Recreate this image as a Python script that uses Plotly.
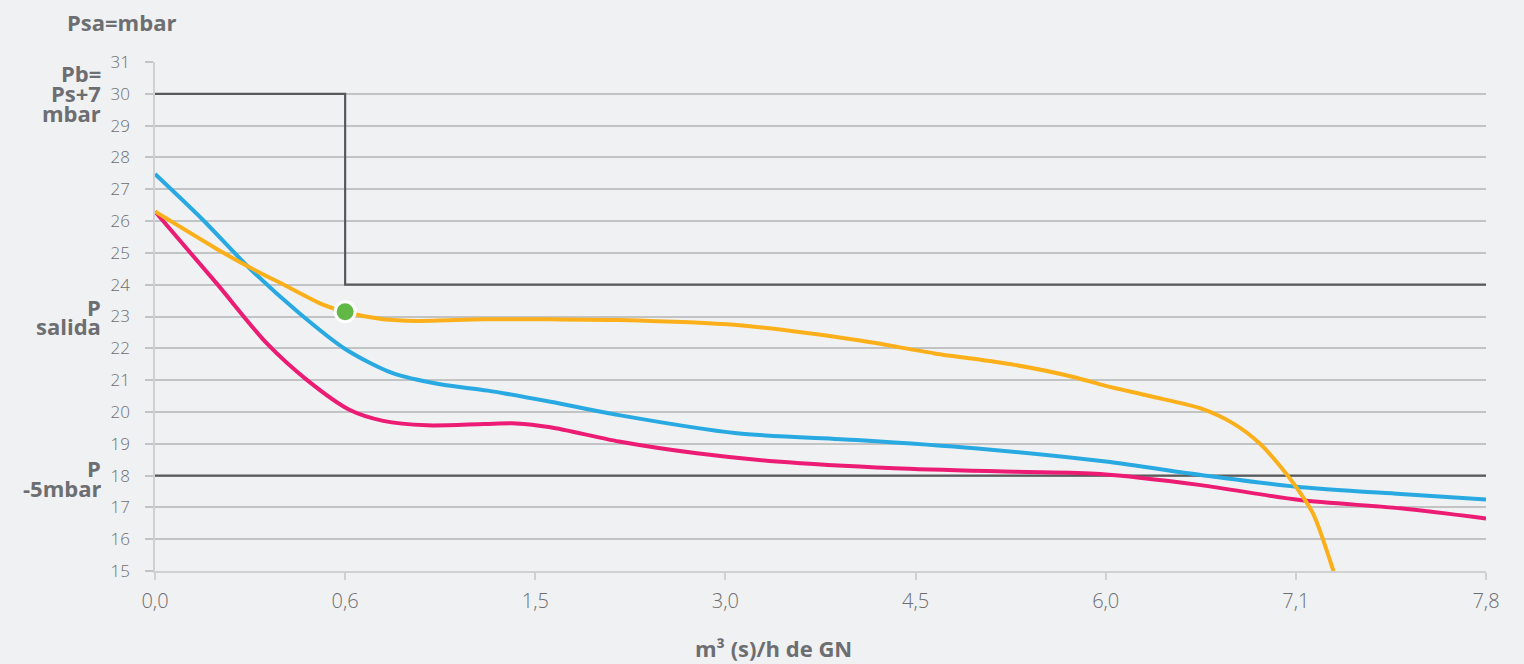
import plotly.graph_objects as go

# ---- data ----
x_labels = ["0,0", "0,6", "1,5", "3,0", "4,5", "6,0", "7,1", "7,8"]
x_pos = [0, 1, 2, 3, 4, 5, 6, 7]

orange_x = [0, 0.32, 0.48, 0.68, 0.88, 1.0, 1.2, 1.38, 1.73, 2.08, 2.44, 3.06, 3.69, 4.1, 4.52, 4.83, 5.0, 5.23, 5.5, 5.67, 5.81, 5.92, 6.0, 6.09, 6.2]
orange_y = [26.3, 25.14, 24.6, 23.99, 23.38, 23.14, 22.91, 22.86, 22.91, 22.91, 22.89, 22.73, 22.26, 21.84, 21.48, 21.1, 20.82, 20.5, 20.11, 19.64, 19.01, 18.28, 17.65, 16.81, 14.95]

blue_x = [0, 0.25, 0.5, 0.75, 1.0, 1.25, 1.5, 1.75, 2.08, 2.44, 3.06, 3.69, 4.31, 5.0, 5.5, 6.0, 6.55, 7.0]
blue_y = [27.48, 26.05, 24.5, 23.15, 21.98, 21.22, 20.87, 20.67, 20.32, 19.9, 19.33, 19.12, 18.86, 18.44, 18.02, 17.65, 17.42, 17.25]

magenta_x = [0, 0.324, 0.587, 0.8, 1.025, 1.2, 1.43, 1.73, 1.9, 2.08, 2.44, 2.85, 3.27, 3.89, 4.52, 4.97, 5.5, 6.02, 6.55, 7.0]
magenta_y = [26.3, 24.04, 22.16, 21.0, 20.06, 19.72, 19.58, 19.62, 19.64, 19.52, 19.07, 18.7, 18.44, 18.23, 18.12, 18.05, 17.7, 17.23, 16.97, 16.65]

step_x = [0, 1, 1, 7]
step_y = [30, 30, 24, 24]
limit_x = [0, 7]
limit_y = [18, 18]

point_x = [1]
point_y = [23.15]

y_ticks = list(range(15, 32))

BG = "#f0f1f3"
GRID = "#c2c3c5"
TXT = "#6d6e71"
BOLD = "#6d6e71"
FONT = "Open Sans"

fig = go.Figure()
fig.add_trace(go.Scatter(x=step_x, y=step_y, mode="lines",
                         line=dict(color="#58595b", width=2.2), hoverinfo="skip"))
fig.add_trace(go.Scatter(x=limit_x, y=limit_y, mode="lines",
                         line=dict(color="#58595b", width=2.2), hoverinfo="skip"))
fig.add_trace(go.Scatter(x=magenta_x, y=magenta_y, mode="lines",
                         line=dict(color="#ec1c74", width=4, shape="spline", smoothing=0.8)))
fig.add_trace(go.Scatter(x=blue_x, y=blue_y, mode="lines",
                         line=dict(color="#29a9e1", width=4, shape="spline", smoothing=0.8)))
fig.add_trace(go.Scatter(x=orange_x, y=orange_y, mode="lines",
                         line=dict(color="#fbb01b", width=4, shape="spline", smoothing=0.8)))
fig.add_trace(go.Scatter(x=point_x, y=point_y, mode="markers",
                         marker=dict(color="#62b847", size=20, line=dict(color="white", width=3))))

fig.update_layout(
    width=1524, height=664,
    margin=dict(l=155, r=38, t=62, b=93),
    paper_bgcolor=BG, plot_bgcolor=BG,
    showlegend=False,
    font=dict(family=FONT, color=TXT, size=17),
)
fig.update_xaxes(range=[0, 7], tickvals=x_pos, ticktext=x_labels,
                 showgrid=False, zeroline=False,
                 showline=True, linecolor="#cfd0d2", linewidth=1.5,
                 ticks="outside", ticklen=7, tickcolor="#cfd0d2", tickwidth=1.5,
                 ticklabelstandoff=4,
                 tickfont=dict(family=FONT, size=20, color=TXT, weight=300))
fig.update_yaxes(range=[15, 31], tickvals=y_ticks,
                 showgrid=True, gridcolor=GRID, gridwidth=2, zeroline=False,
                 showline=True, linecolor="#cfd0d2", linewidth=1.5,
                 ticks="outside", ticklen=8, tickcolor=GRID, tickwidth=2,
                 ticklabelstandoff=12,
                 tickfont=dict(family=FONT, size=17, color=TXT, weight=300))

def lab(text, y, x=(102 - 155) / 1331, size=22):
    fig.add_annotation(text="<b>" + text + "</b>", xref="paper", yref="y", x=x, y=y,
                       xanchor="right", yanchor="middle", showarrow=False,
                       height=19, valign="middle", borderpad=0,
                       font=dict(family=FONT, size=size, color=BOLD))

lab("Pb=", 30.66)
lab("Ps+7", 30.03)
lab("mbar", 29.4)
lab("P", 23.33)
lab("salida", 22.73)
lab("P", 18.24)
lab("-5mbar", 17.64)

fig.add_annotation(text="<b>Psa=mbar</b>", xref="paper", yref="paper",
                   x=(65 - 155) / 1331, y=1 + (62 - 22) / 509, xanchor="left", yanchor="middle",
                   showarrow=False, font=dict(family=FONT, size=22, color=BOLD))
fig.add_annotation(text="<b>m³ (s)/h de GN</b>", xref="paper", yref="paper",
                   x=(773 - 155) / 1331, y=-(648 - 571) / 509, xanchor="center", yanchor="middle",
                   showarrow=False, font=dict(family=FONT, size=22, color=BOLD))

fig.write_html("out.html", config={"displayModeBar": False},
               post_script="document.body.style.margin='0';document.body.style.background='" + BG + "';")
